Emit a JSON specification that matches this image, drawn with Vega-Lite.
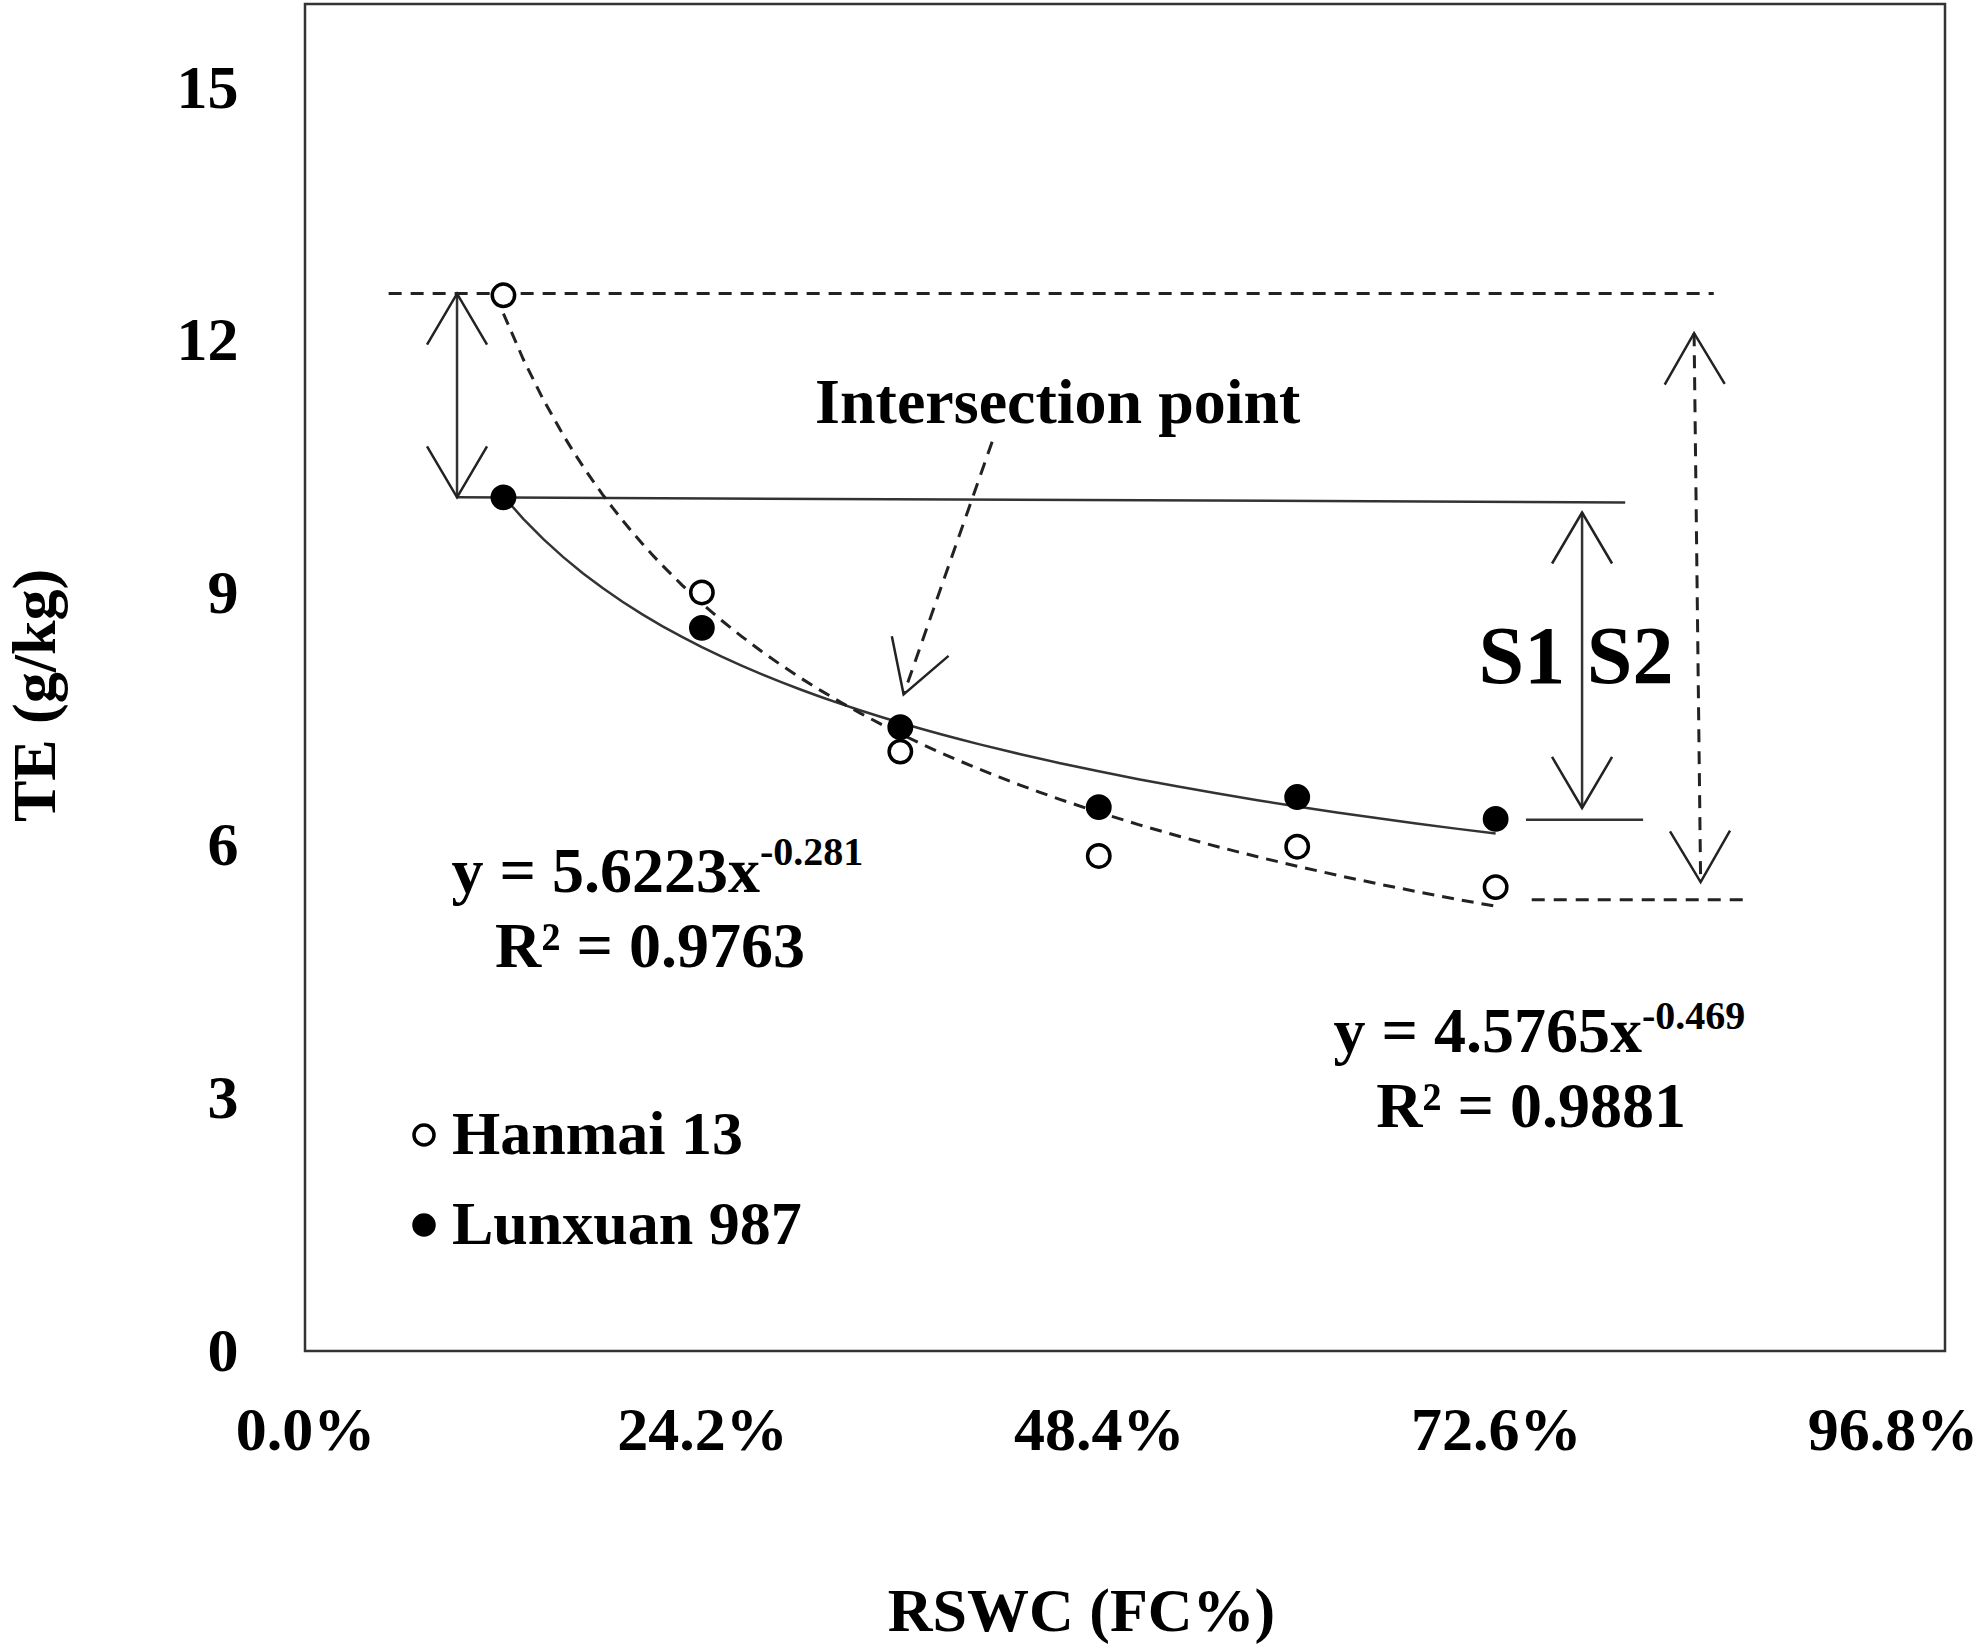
{
  "$schema": "https://vega.github.io/schema/vega-lite/v6.json",
  "description": "TE (g/kg) against RSWC (FC%) for two wheat cultivars, with power trendlines and sensitivity annotations.",
  "width": 1640,
  "height": 1347,
  "autosize": {"type": "none"},
  "padding": {"left": 305, "top": 4, "right": 38, "bottom": 299},
  "background": "white",
  "config": {
    "view": {"stroke": "#333333", "strokeWidth": 2.5},
    "font": "Liberation Serif",
    "axis": {
      "labelFont": "Liberation Serif",
      "labelFontWeight": "bold",
      "labelFontSize": 62,
      "labelColor": "black",
      "labelFlush": false,
      "titleFont": "Liberation Serif",
      "titleFontWeight": "bold",
      "titleFontSize": 62,
      "titleColor": "black",
      "domain": false,
      "grid": false,
      "ticks": false
    }
  },
  "datasets": {
    "te": [
      {"variety": "Hanmai 13", "rswc": 0.121, "te": 12.54},
      {"variety": "Hanmai 13", "rswc": 0.242, "te": 9.01},
      {"variety": "Hanmai 13", "rswc": 0.363, "te": 7.12},
      {"variety": "Hanmai 13", "rswc": 0.484, "te": 5.88},
      {"variety": "Hanmai 13", "rswc": 0.605, "te": 5.99},
      {"variety": "Hanmai 13", "rswc": 0.726, "te": 5.51},
      {"variety": "Lunxuan 987", "rswc": 0.121, "te": 10.14},
      {"variety": "Lunxuan 987", "rswc": 0.242, "te": 8.59},
      {"variety": "Lunxuan 987", "rswc": 0.363, "te": 7.41},
      {"variety": "Lunxuan 987", "rswc": 0.484, "te": 6.46},
      {"variety": "Lunxuan 987", "rswc": 0.605, "te": 6.58},
      {"variety": "Lunxuan 987", "rswc": 0.726, "te": 6.32}
    ],
    "solidSegments": [
      {"x": 0.0927, "y": 10.14, "x2": 0.805, "y2": 10.08},
      {"x": 0.0927, "y": 12.56, "x2": 0.0927, "y2": 10.14},
      {"x": 0.7787, "y": 9.96, "x2": 0.7787, "y2": 6.45},
      {"x": 0.7445, "y": 6.31, "x2": 0.8159, "y2": 6.31}
    ],
    "dashedSegments": [
      {"x": 0.051, "y": 12.56, "x2": 0.859, "y2": 12.56},
      {"x": 0.748, "y": 5.36, "x2": 0.8805, "y2": 5.36},
      {"x": 0.847, "y": 12.09, "x2": 0.851, "y2": 5.57},
      {"x": 0.419, "y": 10.8, "x2": 0.365, "y2": 7.8}
    ],
    "arrowHeads": [
      {"x": 0.0927, "y": 12.56, "angle": 0},
      {"x": 0.0927, "y": 10.14, "angle": 180},
      {"x": 0.7787, "y": 9.96, "angle": 0},
      {"x": 0.7787, "y": 6.45, "angle": 180},
      {"x": 0.847, "y": 12.09, "angle": 359.3},
      {"x": 0.851, "y": 5.57, "angle": 179.3},
      {"x": 0.365, "y": 7.8, "angle": 199}
    ]
  },
  "encoding": {
    "x": {
      "field": "x",
      "type": "quantitative",
      "scale": {"domain": [0, 1], "nice": false},
      "axis": {
        "values": [0, 0.242, 0.484, 0.726, 0.968],
        "format": ".1%",
        "labelPadding": 49,
        "title": "RSWC (FC%)",
        "titleX": 776,
        "titleY": 279,
        "titleAlign": "center",
        "titleBaseline": "alphabetic"
      }
    },
    "y": {
      "field": "y",
      "type": "quantitative",
      "scale": {"domain": [0, 16], "nice": false},
      "axis": {
        "values": [0, 3, 6, 9, 12, 15],
        "labelPadding": 67,
        "title": "TE (g/kg)",
        "titleX": -270,
        "titleY": 691,
        "titleAngle": -90,
        "titleAlign": "center",
        "titleBaseline": "middle"
      }
    }
  },
  "layer": [
    {
      "data": {"name": "solidSegments"},
      "mark": {"type": "rule", "color": "#333333", "strokeWidth": 2.5},
      "encoding": {
        "x2": {"field": "x2"},
        "y2": {"field": "y2"}
      }
    },
    {
      "data": {"name": "dashedSegments"},
      "mark": {"type": "rule", "color": "#222222", "strokeWidth": 3, "strokeDash": [13, 9]},
      "encoding": {
        "x2": {"field": "x2"},
        "y2": {"field": "y2"}
      }
    },
    {
      "data": {"name": "arrowHeads"},
      "mark": {
        "type": "point",
        "shape": "M -1 1.7 L 0 0 L 1 1.7",
        "size": 3600,
        "filled": false,
        "stroke": "#222222",
        "strokeWidth": 2.5,
        "opacity": 1
      },
      "encoding": {
        "angle": {"field": "angle", "type": "quantitative", "scale": null}
      }
    },
    {
      "data": {"name": "te"},
      "transform": [
        {"filter": "datum.variety === 'Lunxuan 987'"},
        {"regression": "te", "on": "rswc", "method": "pow", "extent": [0.121, 0.726], "as": ["x", "y"]}
      ],
      "mark": {"type": "line", "color": "#333333", "strokeWidth": 2.5}
    },
    {
      "data": {"name": "te"},
      "transform": [
        {"filter": "datum.variety === 'Hanmai 13'"},
        {"regression": "te", "on": "rswc", "method": "pow", "extent": [0.121, 0.726], "as": ["x", "y"]}
      ],
      "mark": {"type": "line", "color": "#222222", "strokeWidth": 3, "strokeDash": [12, 8]}
    },
    {
      "data": {"name": "te"},
      "mark": {"type": "point", "shape": "circle", "filled": true, "size": 500, "stroke": "black", "strokeWidth": 3.5, "opacity": 1},
      "encoding": {
        "x": {"field": "rswc", "type": "quantitative"},
        "y": {"field": "te", "type": "quantitative"},
        "fill": {
          "field": "variety",
          "type": "nominal",
          "scale": {"domain": ["Hanmai 13", "Lunxuan 987"], "range": ["white", "black"]},
          "legend": {
            "title": null,
            "orient": "none",
            "legendX": 88,
            "legendY": 1100,
            "symbolType": "circle",
            "symbolSize": 400,
            "symbolStrokeColor": "black",
            "symbolStrokeWidth": 3.5,
            "labelFont": "Liberation Serif",
            "labelFontSize": 62,
            "labelFontWeight": "bold",
            "labelColor": "black",
            "labelLimit": 0,
            "labelOffset": -3,
            "rowPadding": 28
          }
        }
      }
    },
    {
      "data": {"values": [{"x": 0.459, "y": 11.02, "label": "Intersection point"}]},
      "mark": {"type": "text", "font": "Liberation Serif", "fontWeight": "bold", "fontSize": 64, "align": "center", "baseline": "alphabetic", "color": "black"},
      "encoding": {"text": {"field": "label"}}
    },
    {
      "data": {"values": [
        {"x": 0.742, "y": 7.93, "label": "S1"},
        {"x": 0.808, "y": 7.93, "label": "S2"}
      ]},
      "mark": {"type": "text", "font": "Liberation Serif", "fontWeight": "bold", "fontSize": 82, "align": "center", "baseline": "alphabetic", "color": "black"},
      "encoding": {"text": {"field": "label"}}
    },
    {
      "data": {"values": [
        {"x": 0.2774, "y": 5.45, "label": "y = 5.6223x"},
        {"x": 0.8152, "y": 3.55, "label": "y = 4.5765x"}
      ]},
      "mark": {"type": "text", "font": "Liberation Serif", "fontWeight": "bold", "fontSize": 64, "align": "right", "baseline": "alphabetic", "color": "black"},
      "encoding": {"text": {"field": "label"}}
    },
    {
      "data": {"values": [
        {"x": 0.2774, "y": 5.77, "label": "-0.281"},
        {"x": 0.8152, "y": 3.83, "label": "-0.469"}
      ]},
      "mark": {"type": "text", "font": "Liberation Serif", "fontWeight": "bold", "fontSize": 40, "align": "left", "baseline": "alphabetic", "color": "black"},
      "encoding": {"text": {"field": "label"}}
    },
    {
      "data": {"values": [
        {"x": 0.2104, "y": 4.56, "label": "R² = 0.9763"},
        {"x": 0.7476, "y": 2.66, "label": "R² = 0.9881"}
      ]},
      "mark": {"type": "text", "font": "Liberation Serif", "fontWeight": "bold", "fontSize": 64, "align": "center", "baseline": "alphabetic", "color": "black"},
      "encoding": {"text": {"field": "label"}}
    }
  ]
}
